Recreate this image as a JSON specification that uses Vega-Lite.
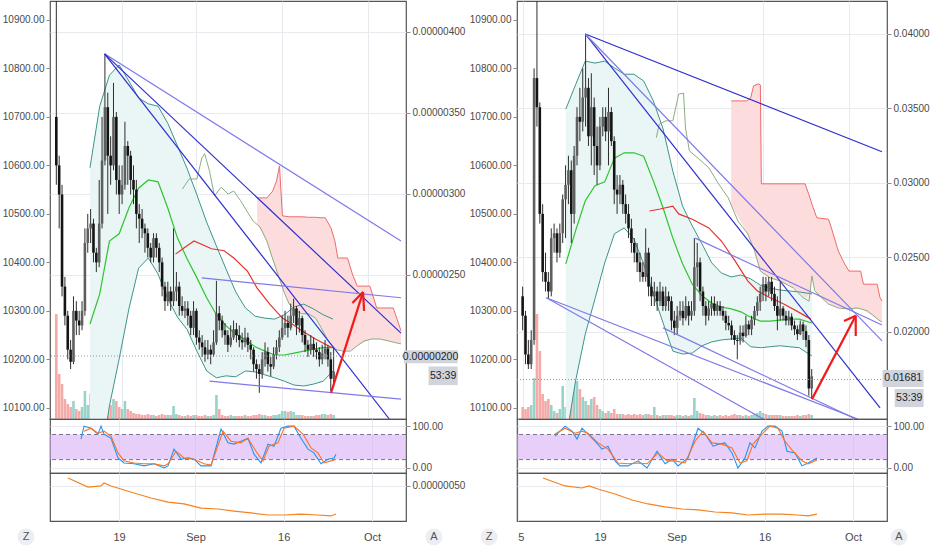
{
  "$schema": "https://vega.github.io/schema/vega-lite/v6.json",
  "padding": 0,
  "spacing": 0,
  "datasets": {
    "candL": [
      {"d":7.5,"o":10700,"h":10939,"l":10560,"c":10600,"v":105},
      {"d":8.0,"o":10600,"h":10620,"l":10470,"c":10540,"v":45},
      {"d":8.5,"o":10540,"h":10560,"l":10330,"c":10350,"v":35},
      {"d":9.0,"o":10350,"h":10370,"l":10270,"c":10290,"v":20},
      {"d":9.5,"o":10290,"h":10300,"l":10200,"c":10220,"v":15},
      {"d":10.0,"o":10220,"h":10240,"l":10180,"c":10195,"v":12},
      {"d":10.5,"o":10195,"h":10330,"l":10190,"c":10300,"v":18},
      {"d":11.0,"o":10300,"h":10320,"l":10250,"c":10280,"v":10},
      {"d":11.5,"o":10280,"h":10300,"l":10250,"c":10270,"v":8},
      {"d":12.0,"o":10270,"h":10320,"l":10260,"c":10300,"v":12},
      {"d":12.5,"o":10300,"h":10470,"l":10290,"c":10440,"v":28},
      {"d":13.0,"o":10440,"h":10500,"l":10420,"c":10470,"v":14},
      {"d":13.5,"o":10470,"h":10510,"l":10440,"c":10480,"v":25},
      {"d":14.0,"o":10480,"h":10490,"l":10400,"c":10420,"v":8},
      {"d":14.5,"o":10420,"h":10430,"l":10380,"c":10400,"v":10},
      {"d":15.0,"o":10400,"h":10570,"l":10390,"c":10480,"v":43},
      {"d":15.5,"o":10480,"h":10700,"l":10470,"c":10610,"v":38},
      {"d":16.0,"o":10610,"h":10830,"l":10600,"c":10720,"v":32},
      {"d":16.5,"o":10720,"h":10750,"l":10500,"c":10620,"v":25},
      {"d":17.0,"o":10620,"h":10660,"l":10560,"c":10600,"v":14},
      {"d":17.5,"o":10600,"h":10770,"l":10590,"c":10700,"v":20},
      {"d":18.0,"o":10700,"h":10710,"l":10540,"c":10570,"v":18},
      {"d":18.5,"o":10570,"h":10600,"l":10500,"c":10540,"v":12},
      {"d":19.0,"o":10540,"h":10600,"l":10520,"c":10560,"v":10},
      {"d":19.5,"o":10560,"h":10690,"l":10550,"c":10640,"v":18},
      {"d":20.0,"o":10640,"h":10650,"l":10560,"c":10620,"v":10},
      {"d":20.5,"o":10620,"h":10630,"l":10540,"c":10570,"v":8},
      {"d":21.0,"o":10570,"h":10600,"l":10520,"c":10550,"v":6},
      {"d":21.5,"o":10550,"h":10570,"l":10470,"c":10500,"v":5},
      {"d":22.0,"o":10500,"h":10520,"l":10440,"c":10490,"v":5},
      {"d":22.5,"o":10490,"h":10510,"l":10450,"c":10470,"v":4},
      {"d":23.0,"o":10470,"h":10480,"l":10420,"c":10460,"v":4},
      {"d":23.5,"o":10460,"h":10470,"l":10410,"c":10430,"v":5},
      {"d":24.0,"o":10430,"h":10440,"l":10400,"c":10410,"v":4},
      {"d":24.5,"o":10410,"h":10460,"l":10400,"c":10450,"v":4},
      {"d":25.0,"o":10450,"h":10460,"l":10410,"c":10430,"v":3},
      {"d":25.5,"o":10430,"h":10440,"l":10380,"c":10400,"v":4},
      {"d":26.0,"o":10400,"h":10410,"l":10330,"c":10350,"v":5},
      {"d":26.5,"o":10350,"h":10360,"l":10300,"c":10320,"v":4},
      {"d":27.0,"o":10320,"h":10360,"l":10310,"c":10340,"v":4},
      {"d":27.5,"o":10340,"h":10350,"l":10300,"c":10320,"v":4},
      {"d":28.0,"o":10320,"h":10470,"l":10310,"c":10340,"v":13},
      {"d":28.5,"o":10340,"h":10380,"l":10320,"c":10350,"v":5},
      {"d":29.0,"o":10350,"h":10360,"l":10290,"c":10310,"v":4},
      {"d":29.5,"o":10310,"h":10330,"l":10290,"c":10300,"v":3},
      {"d":30.0,"o":10300,"h":10320,"l":10285,"c":10305,"v":3},
      {"d":30.5,"o":10305,"h":10320,"l":10270,"c":10290,"v":4},
      {"d":31.0,"o":10290,"h":10300,"l":10250,"c":10265,"v":3},
      {"d":31.5,"o":10265,"h":10320,"l":10250,"c":10300,"v":4},
      {"d":32.0,"o":10300,"h":10305,"l":10230,"c":10245,"v":4},
      {"d":32.5,"o":10245,"h":10260,"l":10220,"c":10235,"v":3},
      {"d":33.0,"o":10235,"h":10250,"l":10205,"c":10225,"v":3},
      {"d":33.5,"o":10225,"h":10240,"l":10195,"c":10210,"v":4},
      {"d":34.0,"o":10210,"h":10240,"l":10200,"c":10220,"v":3},
      {"d":34.5,"o":10220,"h":10230,"l":10190,"c":10210,"v":3},
      {"d":35.0,"o":10210,"h":10260,"l":10205,"c":10235,"v":4},
      {"d":35.5,"o":10235,"h":10362,"l":10230,"c":10295,"v":24},
      {"d":36.0,"o":10295,"h":10310,"l":10260,"c":10280,"v":10},
      {"d":36.5,"o":10280,"h":10290,"l":10245,"c":10260,"v":4},
      {"d":37.0,"o":10260,"h":10275,"l":10230,"c":10250,"v":3},
      {"d":37.5,"o":10250,"h":10260,"l":10215,"c":10230,"v":3},
      {"d":38.0,"o":10230,"h":10270,"l":10225,"c":10245,"v":4},
      {"d":38.5,"o":10245,"h":10280,"l":10240,"c":10262,"v":3},
      {"d":39.0,"o":10262,"h":10275,"l":10235,"c":10250,"v":3},
      {"d":39.5,"o":10250,"h":10270,"l":10225,"c":10240,"v":3},
      {"d":40.0,"o":10240,"h":10255,"l":10220,"c":10235,"v":3},
      {"d":40.5,"o":10235,"h":10265,"l":10225,"c":10245,"v":4},
      {"d":41.0,"o":10245,"h":10255,"l":10215,"c":10230,"v":3},
      {"d":41.5,"o":10230,"h":10240,"l":10200,"c":10220,"v":3},
      {"d":42.0,"o":10220,"h":10225,"l":10175,"c":10190,"v":4},
      {"d":42.5,"o":10190,"h":10200,"l":10160,"c":10180,"v":4},
      {"d":43.0,"o":10180,"h":10190,"l":10131,"c":10170,"v":5},
      {"d":43.5,"o":10170,"h":10215,"l":10160,"c":10200,"v":4},
      {"d":44.0,"o":10200,"h":10235,"l":10185,"c":10215,"v":4},
      {"d":44.5,"o":10215,"h":10225,"l":10175,"c":10190,"v":3},
      {"d":45.0,"o":10190,"h":10205,"l":10165,"c":10185,"v":3},
      {"d":45.5,"o":10185,"h":10225,"l":10180,"c":10210,"v":4},
      {"d":46.0,"o":10210,"h":10240,"l":10200,"c":10225,"v":4},
      {"d":46.5,"o":10225,"h":10260,"l":10215,"c":10245,"v":5},
      {"d":47.0,"o":10245,"h":10290,"l":10240,"c":10265,"v":8},
      {"d":47.5,"o":10265,"h":10300,"l":10250,"c":10275,"v":8},
      {"d":48.0,"o":10275,"h":10290,"l":10245,"c":10265,"v":7},
      {"d":48.5,"o":10265,"h":10315,"l":10260,"c":10290,"v":8},
      {"d":49.0,"o":10290,"h":10325,"l":10275,"c":10305,"v":7},
      {"d":49.5,"o":10305,"h":10310,"l":10250,"c":10270,"v":4},
      {"d":50.0,"o":10270,"h":10300,"l":10255,"c":10285,"v":4},
      {"d":50.5,"o":10285,"h":10290,"l":10235,"c":10250,"v":4},
      {"d":51.0,"o":10250,"h":10260,"l":10215,"c":10230,"v":3},
      {"d":51.5,"o":10230,"h":10240,"l":10205,"c":10220,"v":3},
      {"d":52.0,"o":10220,"h":10250,"l":10210,"c":10232,"v":3},
      {"d":52.5,"o":10232,"h":10245,"l":10205,"c":10220,"v":3},
      {"d":53.0,"o":10220,"h":10235,"l":10200,"c":10215,"v":4},
      {"d":53.5,"o":10215,"h":10225,"l":10185,"c":10200,"v":4},
      {"d":54.0,"o":10200,"h":10230,"l":10190,"c":10212,"v":5},
      {"d":54.5,"o":10212,"h":10240,"l":10200,"c":10222,"v":5},
      {"d":55.0,"o":10222,"h":10230,"l":10185,"c":10200,"v":4},
      {"d":55.5,"o":10200,"h":10215,"l":10135,"c":10160,"v":5},
      {"d":56.0,"o":10160,"h":10225,"l":10150,"c":10175,"v":4}
    ],
    "candR": [
      {"d":5.0,"o":10330,"h":10350,"l":10260,"c":10290,"v":12},
      {"d":5.5,"o":10290,"h":10300,"l":10190,"c":10210,"v":10},
      {"d":6.0,"o":10210,"h":10240,"l":10180,"c":10190,"v":12},
      {"d":6.5,"o":10190,"h":10260,"l":10180,"c":10240,"v":14},
      {"d":7.0,"o":10240,"h":10800,"l":10230,"c":10780,"v":41},
      {"d":7.5,"o":10780,"h":10960,"l":10680,"c":10720,"v":105},
      {"d":8.0,"o":10720,"h":10730,"l":10480,"c":10500,"v":68},
      {"d":8.5,"o":10500,"h":10520,"l":10360,"c":10380,"v":25},
      {"d":9.0,"o":10380,"h":10420,"l":10340,"c":10360,"v":18},
      {"d":9.5,"o":10360,"h":10380,"l":10325,"c":10340,"v":20},
      {"d":10.0,"o":10340,"h":10470,"l":10330,"c":10450,"v":14},
      {"d":10.5,"o":10450,"h":10480,"l":10420,"c":10460,"v":8},
      {"d":11.0,"o":10460,"h":10470,"l":10400,"c":10420,"v":6},
      {"d":11.5,"o":10420,"h":10480,"l":10410,"c":10460,"v":10},
      {"d":12.0,"o":10460,"h":10540,"l":10440,"c":10530,"v":33},
      {"d":12.5,"o":10530,"h":10600,"l":10450,"c":10560,"v":12},
      {"d":13.0,"o":10560,"h":10620,"l":10520,"c":10590,"v":25},
      {"d":13.5,"o":10590,"h":10610,"l":10440,"c":10500,"v":22},
      {"d":14.0,"o":10500,"h":10640,"l":10480,"c":10620,"v":48},
      {"d":14.5,"o":10620,"h":10720,"l":10600,"c":10700,"v":38},
      {"d":15.0,"o":10700,"h":10760,"l":10650,"c":10690,"v":30},
      {"d":15.5,"o":10690,"h":10800,"l":10670,"c":10740,"v":22},
      {"d":16.0,"o":10740,"h":10870,"l":10680,"c":10760,"v":18},
      {"d":16.5,"o":10760,"h":10780,"l":10640,"c":10660,"v":14},
      {"d":17.0,"o":10660,"h":10790,"l":10600,"c":10720,"v":20},
      {"d":17.5,"o":10720,"h":10740,"l":10580,"c":10640,"v":22},
      {"d":18.0,"o":10640,"h":10680,"l":10560,"c":10600,"v":14},
      {"d":18.5,"o":10600,"h":10700,"l":10590,"c":10680,"v":10},
      {"d":19.0,"o":10680,"h":10720,"l":10660,"c":10700,"v":8},
      {"d":19.5,"o":10700,"h":10720,"l":10650,"c":10670,"v":6},
      {"d":20.0,"o":10670,"h":10760,"l":10600,"c":10710,"v":8},
      {"d":20.5,"o":10710,"h":10720,"l":10640,"c":10650,"v":6},
      {"d":21.0,"o":10650,"h":10660,"l":10520,"c":10550,"v":10},
      {"d":21.5,"o":10550,"h":10580,"l":10500,"c":10540,"v":5},
      {"d":22.0,"o":10540,"h":10580,"l":10520,"c":10560,"v":5},
      {"d":22.5,"o":10560,"h":10570,"l":10500,"c":10520,"v":5},
      {"d":23.0,"o":10520,"h":10540,"l":10480,"c":10500,"v":4},
      {"d":23.5,"o":10500,"h":10520,"l":10450,"c":10470,"v":5},
      {"d":24.0,"o":10470,"h":10490,"l":10420,"c":10440,"v":4},
      {"d":24.5,"o":10440,"h":10450,"l":10400,"c":10420,"v":5},
      {"d":25.0,"o":10420,"h":10440,"l":10380,"c":10400,"v":4},
      {"d":25.5,"o":10400,"h":10420,"l":10360,"c":10380,"v":5},
      {"d":26.0,"o":10380,"h":10400,"l":10360,"c":10370,"v":4},
      {"d":26.5,"o":10370,"h":10470,"l":10360,"c":10420,"v":5},
      {"d":27.0,"o":10420,"h":10430,"l":10330,"c":10350,"v":5},
      {"d":27.5,"o":10350,"h":10370,"l":10310,"c":10330,"v":4},
      {"d":28.0,"o":10330,"h":10360,"l":10310,"c":10340,"v":12},
      {"d":28.5,"o":10340,"h":10350,"l":10300,"c":10320,"v":4},
      {"d":29.0,"o":10320,"h":10360,"l":10310,"c":10340,"v":3},
      {"d":29.5,"o":10340,"h":10350,"l":10300,"c":10310,"v":4},
      {"d":30.0,"o":10310,"h":10350,"l":10300,"c":10330,"v":4},
      {"d":30.5,"o":10330,"h":10340,"l":10300,"c":10320,"v":4},
      {"d":31.0,"o":10320,"h":10330,"l":10260,"c":10280,"v":4},
      {"d":31.5,"o":10280,"h":10300,"l":10250,"c":10265,"v":3},
      {"d":32.0,"o":10265,"h":10310,"l":10250,"c":10290,"v":4},
      {"d":32.5,"o":10290,"h":10320,"l":10280,"c":10300,"v":4},
      {"d":33.0,"o":10300,"h":10320,"l":10270,"c":10285,"v":3},
      {"d":33.5,"o":10285,"h":10330,"l":10280,"c":10310,"v":4},
      {"d":34.0,"o":10310,"h":10320,"l":10270,"c":10290,"v":3},
      {"d":34.5,"o":10290,"h":10320,"l":10280,"c":10300,"v":4},
      {"d":35.0,"o":10300,"h":10450,"l":10290,"c":10390,"v":21},
      {"d":35.5,"o":10390,"h":10440,"l":10350,"c":10400,"v":8},
      {"d":36.0,"o":10400,"h":10410,"l":10320,"c":10340,"v":6},
      {"d":36.5,"o":10340,"h":10350,"l":10290,"c":10310,"v":5},
      {"d":37.0,"o":10310,"h":10320,"l":10270,"c":10290,"v":4},
      {"d":37.5,"o":10290,"h":10320,"l":10280,"c":10305,"v":4},
      {"d":38.0,"o":10305,"h":10330,"l":10290,"c":10315,"v":3},
      {"d":38.5,"o":10315,"h":10330,"l":10290,"c":10300,"v":4},
      {"d":39.0,"o":10300,"h":10320,"l":10290,"c":10310,"v":3},
      {"d":39.5,"o":10310,"h":10320,"l":10290,"c":10300,"v":4},
      {"d":40.0,"o":10300,"h":10310,"l":10280,"c":10290,"v":3},
      {"d":40.5,"o":10290,"h":10300,"l":10260,"c":10275,"v":4},
      {"d":41.0,"o":10275,"h":10290,"l":10260,"c":10270,"v":3},
      {"d":41.5,"o":10270,"h":10280,"l":10240,"c":10250,"v":4},
      {"d":42.0,"o":10250,"h":10260,"l":10230,"c":10240,"v":5},
      {"d":42.5,"o":10240,"h":10250,"l":10200,"c":10238,"v":4},
      {"d":43.0,"o":10238,"h":10270,"l":10230,"c":10255,"v":4},
      {"d":43.5,"o":10255,"h":10270,"l":10235,"c":10248,"v":3},
      {"d":44.0,"o":10248,"h":10290,"l":10245,"c":10272,"v":4},
      {"d":44.5,"o":10272,"h":10280,"l":10250,"c":10262,"v":3},
      {"d":45.0,"o":10262,"h":10290,"l":10250,"c":10282,"v":4},
      {"d":45.5,"o":10282,"h":10310,"l":10270,"c":10300,"v":5},
      {"d":46.0,"o":10300,"h":10330,"l":10290,"c":10318,"v":6},
      {"d":46.5,"o":10318,"h":10350,"l":10300,"c":10335,"v":8},
      {"d":47.0,"o":10335,"h":10370,"l":10320,"c":10355,"v":6},
      {"d":47.5,"o":10355,"h":10370,"l":10320,"c":10340,"v":5},
      {"d":48.0,"o":10340,"h":10370,"l":10330,"c":10360,"v":4},
      {"d":48.5,"o":10360,"h":10370,"l":10320,"c":10335,"v":4},
      {"d":49.0,"o":10335,"h":10350,"l":10300,"c":10310,"v":4},
      {"d":49.5,"o":10310,"h":10330,"l":10260,"c":10290,"v":4},
      {"d":50.0,"o":10290,"h":10360,"l":10280,"c":10305,"v":4},
      {"d":50.5,"o":10305,"h":10310,"l":10280,"c":10290,"v":3},
      {"d":51.0,"o":10290,"h":10300,"l":10270,"c":10280,"v":3},
      {"d":51.5,"o":10280,"h":10300,"l":10270,"c":10288,"v":3},
      {"d":52.0,"o":10288,"h":10295,"l":10260,"c":10270,"v":3},
      {"d":52.5,"o":10270,"h":10280,"l":10250,"c":10262,"v":3},
      {"d":53.0,"o":10262,"h":10270,"l":10240,"c":10252,"v":4},
      {"d":53.5,"o":10252,"h":10280,"l":10250,"c":10272,"v":3},
      {"d":54.0,"o":10272,"h":10278,"l":10240,"c":10258,"v":4},
      {"d":54.5,"o":10258,"h":10270,"l":10225,"c":10240,"v":4},
      {"d":55.0,"o":10240,"h":10250,"l":10125,"c":10140,"v":5},
      {"d":55.5,"o":10140,"h":10180,"l":10118,"c":10165,"v":4}
    ],
    "bbL": [
      {"d":13.39,"up":10595,"lo":9784,"mid":10273},
      {"d":15.09,"up":10722,"lo":9970,"mid":10335},
      {"d":16.79,"up":10786,"lo":10104,"mid":10444},
      {"d":18.49,"up":10807,"lo":10201,"mid":10459},
      {"d":20.19,"up":10774,"lo":10304,"mid":10512},
      {"d":21.89,"up":10739,"lo":10388,"mid":10553},
      {"d":23.59,"up":10727,"lo":10409,"mid":10570},
      {"d":25.29,"up":10722,"lo":10376,"mid":10566},
      {"d":26.99,"up":10687,"lo":10325,"mid":10512},
      {"d":28.69,"up":10640,"lo":10287,"mid":10450},
      {"d":30.39,"up":10593,"lo":10261,"mid":10407},
      {"d":32.09,"up":10539,"lo":10217,"mid":10368},
      {"d":33.79,"up":10483,"lo":10176,"mid":10327},
      {"d":35.49,"up":10434,"lo":10162,"mid":10292},
      {"d":37.19,"up":10386,"lo":10166,"mid":10269},
      {"d":38.88,"up":10339,"lo":10164,"mid":10252},
      {"d":40.58,"up":10306,"lo":10176,"mid":10240},
      {"d":42.28,"up":10289,"lo":10174,"mid":10226},
      {"d":43.98,"up":10285,"lo":10168,"mid":10217},
      {"d":45.68,"up":10283,"lo":10162,"mid":10209},
      {"d":47.38,"up":10292,"lo":10155,"mid":10209},
      {"d":49.08,"up":10308,"lo":10147,"mid":10213},
      {"d":50.78,"up":10314,"lo":10145,"mid":10217},
      {"d":52.48,"up":10304,"lo":10149,"mid":10221},
      {"d":54.18,"up":10292,"lo":10155,"mid":10224},
      {"d":55.88,"up":10283,"lo":10176,"mid":10224}
    ],
    "bbR": [
      {"d":12.54,"up":10716,"lo":10032,"mid":10397},
      {"d":14.24,"up":10766,"lo":10155,"mid":10465},
      {"d":15.94,"up":10815,"lo":10252,"mid":10527},
      {"d":17.64,"up":10811,"lo":10325,"mid":10558},
      {"d":19.34,"up":10815,"lo":10399,"mid":10566},
      {"d":21.04,"up":10801,"lo":10459,"mid":10615},
      {"d":22.74,"up":10788,"lo":10471,"mid":10626},
      {"d":24.44,"up":10788,"lo":10448,"mid":10626},
      {"d":26.14,"up":10774,"lo":10397,"mid":10619},
      {"d":27.84,"up":10733,"lo":10335,"mid":10568},
      {"d":29.54,"up":10675,"lo":10275,"mid":10512},
      {"d":31.24,"up":10588,"lo":10217,"mid":10450},
      {"d":32.94,"up":10516,"lo":10211,"mid":10397},
      {"d":34.64,"up":10475,"lo":10213,"mid":10355},
      {"d":36.34,"up":10438,"lo":10228,"mid":10331},
      {"d":38.03,"up":10399,"lo":10236,"mid":10316},
      {"d":39.73,"up":10378,"lo":10240,"mid":10308},
      {"d":41.43,"up":10370,"lo":10242,"mid":10304},
      {"d":43.13,"up":10374,"lo":10244,"mid":10298},
      {"d":44.83,"up":10366,"lo":10226,"mid":10287},
      {"d":46.53,"up":10353,"lo":10224,"mid":10279},
      {"d":48.23,"up":10347,"lo":10226,"mid":10279},
      {"d":49.93,"up":10343,"lo":10228,"mid":10281},
      {"d":51.63,"up":10341,"lo":10226,"mid":10283},
      {"d":53.33,"up":10339,"lo":10224,"mid":10283},
      {"d":55.54,"up":10335,"lo":10207,"mid":10275}
    ],
    "rdL": [
      {"d":28.35,"p":10417},{"d":29.88,"p":10430},{"d":31.58,"p":10444},{"d":34.64,"p":10428},
      {"d":36.85,"p":10424},{"d":38.54,"p":10409},{"d":40.92,"p":10382},{"d":42.62,"p":10347},
      {"d":44.83,"p":10314},{"d":47.04,"p":10285},{"d":48.74,"p":10273},{"d":50.44,"p":10259},
      {"d":52.82,"p":10242},{"d":55.03,"p":10228},{"d":55.88,"p":10224}
    ],
    "rdR": [
      {"d":27.16,"p":10506},{"d":29.03,"p":10510},{"d":31.24,"p":10516},{"d":32.26,"p":10500},
      {"d":34.64,"p":10489},{"d":37.52,"p":10471},{"d":39.73,"p":10444},{"d":42.11,"p":10403},
      {"d":44.32,"p":10362},{"d":46.02,"p":10341},{"d":48.23,"p":10327},{"d":50.61,"p":10314},
      {"d":52.82,"p":10300},{"d":55.37,"p":10283}
    ],
    "saL": [
      {"d":29.54,"a":10551},{"d":30.73,"a":10572},{"d":32.09,"a":10572},{"d":32.94,"a":10615},
      {"d":33.45,"a":10624},{"d":34.3,"a":10588},{"d":35.15,"a":10537},{"d":36.34,"a":10555},
      {"d":37.52,"a":10541},{"d":38.54,"a":10547},{"d":39.73,"a":10527},{"d":40.92,"a":10504},
      {"d":41.94,"a":10485},{"d":43.13,"a":10473},{"d":44.32,"a":10444},{"d":45.34,"a":10407},
      {"d":46.53,"a":10366},{"d":47.38,"a":10337},{"d":48.23,"a":10314},{"d":49.42,"a":10300},
      {"d":50.44,"a":10294},{"d":51.63,"a":10294},{"d":52.82,"a":10285},{"d":53.84,"a":10265},
      {"d":55.03,"a":10238},{"d":56.22,"a":10221},{"d":57.58,"a":10217},{"d":58.94,"a":10217},
      {"d":60.13,"a":10228},{"d":61.32,"a":10238},{"d":62.68,"a":10242},{"d":64.04,"a":10242},
      {"d":65.57,"a":10238},{"d":66.93,"a":10234},{"d":67.78,"a":10232}
    ],
    "saR": [
      {"d":28.35,"a":10657},{"d":28.86,"a":10685},{"d":30.05,"a":10692},{"d":31.24,"a":10692},
      {"d":32.26,"a":10747},{"d":33.11,"a":10749},{"d":33.45,"a":10677},{"d":34.13,"a":10630},
      {"d":35.83,"a":10613},{"d":37.52,"a":10595},{"d":39.22,"a":10562},{"d":40.92,"a":10533},
      {"d":42.62,"a":10485},{"d":44.32,"a":10459},{"d":45.51,"a":10424},{"d":46.53,"a":10382},
      {"d":48.23,"a":10368},{"d":49.93,"a":10362},{"d":52.31,"a":10347},{"d":54.01,"a":10327},
      {"d":55.03,"a":10320},{"d":55.54,"a":10372},{"d":56.05,"a":10341},{"d":58.43,"a":10314},
      {"d":60.13,"a":10306},{"d":61.83,"a":10304},{"d":63.53,"a":10306},{"d":65.23,"a":10300},
      {"d":67.44,"a":10279},{"d":67.78,"a":10277}
    ],
    "cloudL": [
      {"d":42.62,"a":10479,"b":10533},{"d":44.32,"a":10444,"b":10533},{"d":45.34,"a":10407,"b":10547},
      {"d":46.02,"a":10384,"b":10568},{"d":46.53,"a":10366,"b":10599},{"d":47.04,"a":10349,"b":10496},
      {"d":48.23,"a":10314,"b":10494},{"d":49.42,"a":10300,"b":10494},{"d":50.44,"a":10294,"b":10494},
      {"d":51.63,"a":10294,"b":10493},{"d":52.82,"a":10285,"b":10493},{"d":53.84,"a":10265,"b":10492},
      {"d":54.52,"a":10250,"b":10492},{"d":55.54,"a":10231,"b":10471},{"d":56.22,"a":10221,"b":10444},
      {"d":56.73,"a":10220,"b":10409},{"d":58.43,"a":10217,"b":10409},{"d":59.28,"a":10220,"b":10376},
      {"d":60.13,"a":10228,"b":10351},{"d":62.34,"a":10241,"b":10351},{"d":63.53,"a":10242,"b":10306},
      {"d":66.42,"a":10236,"b":10306},{"d":67.78,"a":10232,"b":10259}
    ],
    "cloudR": [
      {"d":41.43,"a":10519,"b":10733},{"d":44.15,"a":10462,"b":10733},{"d":44.83,"a":10444,"b":10739},
      {"d":45.34,"a":10429,"b":10764},{"d":46.19,"a":10396,"b":10768},{"d":46.53,"a":10382,"b":10766},
      {"d":46.7,"a":10381,"b":10562},{"d":48.23,"a":10368,"b":10562},{"d":49.93,"a":10362,"b":10562},
      {"d":52.31,"a":10347,"b":10562},{"d":54.35,"a":10325,"b":10562},{"d":55.2,"a":10337,"b":10533},
      {"d":55.54,"a":10372,"b":10520},{"d":56.39,"a":10333,"b":10492},{"d":58.43,"a":10314,"b":10489},
      {"d":58.94,"a":10312,"b":10471},{"d":60.13,"a":10306,"b":10424},{"d":61.15,"a":10305,"b":10399},
      {"d":62.0,"a":10304,"b":10382},{"d":64.04,"a":10304,"b":10382},{"d":64.55,"a":10302,"b":10355},
      {"d":66.93,"a":10284,"b":10355},{"d":67.44,"a":10279,"b":10327},{"d":67.78,"a":10277,"b":10320}
    ],
    "trL": [
      {"d1":15.94,"p1":10830,"d2":67.78,"p2":10444,"k":"light"},
      {"d1":15.94,"p1":10830,"d2":67.78,"p2":10254,"k":"dark"},
      {"d1":15.94,"p1":10830,"d2":65.74,"p2":10077,"k":"dark"},
      {"d1":32.94,"p1":10368,"d2":67.78,"p2":10327,"k":"light"},
      {"d1":34.3,"p1":10155,"d2":67.78,"p2":10118,"k":"light"},
      {"d1":55.54,"p1":10131,"d2":61.15,"p2":10339,"k":"arrow"},
      {"d1":61.15,"p1":10339,"d2":59.28,"p2":10316,"k":"arrow"},
      {"d1":61.15,"p1":10339,"d2":61.32,"p2":10300,"k":"arrow"}
    ],
    "trR": [
      {"d1":15.94,"p1":10871,"d2":67.78,"p2":10628,"k":"dark"},
      {"d1":15.94,"p1":10871,"d2":67.44,"p2":10100,"k":"dark"},
      {"d1":15.94,"p1":10871,"d2":67.78,"p2":10238,"k":"light"},
      {"d1":35.15,"p1":10450,"d2":67.78,"p2":10271,"k":"light"},
      {"d1":9.14,"p1":10327,"d2":63.53,"p2":10077,"k":"light"},
      {"d1":9.14,"p1":10327,"d2":47.04,"p2":10077,"k":"light"},
      {"d1":29.54,"p1":10265,"d2":63.19,"p2":10077,"k":"light"},
      {"d1":55.54,"p1":10118,"d2":63.19,"p2":10290,"k":"arrow"},
      {"d1":63.19,"p1":10290,"d2":61.15,"p2":10279,"k":"arrow"},
      {"d1":63.19,"p1":10290,"d2":63.19,"p2":10248,"k":"arrow"}
    ],
    "stL": [
      {"d":12.54,"v":69,"s":"K"},{"d":13.05,"v":100,"s":"K"},{"d":14.24,"v":95,"s":"K"},{"d":15.43,"v":81,"s":"K"},
      {"d":15.94,"v":100,"s":"K"},{"d":16.45,"v":81,"s":"K"},{"d":17.64,"v":71,"s":"K"},{"d":18.83,"v":24,"s":"K"},
      {"d":19.85,"v":12,"s":"K"},{"d":21.55,"v":10,"s":"K"},{"d":23.25,"v":5,"s":"K"},{"d":24.95,"v":10,"s":"K"},
      {"d":26.65,"v":0,"s":"K"},{"d":27.33,"v":5,"s":"K"},{"d":28.35,"v":45,"s":"K"},{"d":29.54,"v":21,"s":"K"},
      {"d":30.73,"v":24,"s":"K"},{"d":31.75,"v":21,"s":"K"},{"d":32.94,"v":5,"s":"K"},{"d":34.64,"v":5,"s":"K"},
      {"d":36.34,"v":93,"s":"K"},{"d":37.52,"v":60,"s":"K"},{"d":38.54,"v":57,"s":"K"},{"d":39.73,"v":64,"s":"K"},
      {"d":40.92,"v":71,"s":"K"},{"d":41.94,"v":33,"s":"K"},{"d":43.13,"v":12,"s":"K"},{"d":44.32,"v":57,"s":"K"},
      {"d":45.34,"v":52,"s":"K"},{"d":46.53,"v":95,"s":"K"},{"d":47.72,"v":100,"s":"K"},{"d":48.74,"v":100,"s":"K"},
      {"d":49.93,"v":71,"s":"K"},{"d":51.12,"v":45,"s":"K"},{"d":52.14,"v":36,"s":"K"},{"d":53.33,"v":10,"s":"K"},
      {"d":54.52,"v":21,"s":"K"},{"d":55.54,"v":24,"s":"K"},{"d":55.88,"v":33,"s":"K"},
      {"d":13.05,"v":88,"s":"D"},{"d":14.24,"v":95,"s":"D"},{"d":15.43,"v":83,"s":"D"},{"d":16.45,"v":88,"s":"D"},
      {"d":17.64,"v":76,"s":"D"},{"d":18.83,"v":36,"s":"D"},{"d":19.85,"v":17,"s":"D"},{"d":21.55,"v":12,"s":"D"},
      {"d":23.25,"v":10,"s":"D"},{"d":24.95,"v":10,"s":"D"},{"d":26.65,"v":5,"s":"D"},{"d":27.33,"v":10,"s":"D"},
      {"d":28.69,"v":40,"s":"D"},{"d":30.05,"v":24,"s":"D"},{"d":31.75,"v":21,"s":"D"},{"d":33.45,"v":10,"s":"D"},
      {"d":34.64,"v":7,"s":"D"},{"d":36.68,"v":88,"s":"D"},{"d":38.03,"v":64,"s":"D"},{"d":39.73,"v":60,"s":"D"},
      {"d":40.92,"v":71,"s":"D"},{"d":42.28,"v":40,"s":"D"},{"d":43.47,"v":17,"s":"D"},{"d":44.49,"v":52,"s":"D"},
      {"d":46.02,"v":60,"s":"D"},{"d":47.04,"v":95,"s":"D"},{"d":48.74,"v":100,"s":"D"},{"d":50.27,"v":81,"s":"D"},
      {"d":51.63,"v":48,"s":"D"},{"d":52.82,"v":36,"s":"D"},{"d":53.84,"v":12,"s":"D"},{"d":55.03,"v":17,"s":"D"},
      {"d":55.88,"v":21,"s":"D"}
    ],
    "stR": [
      {"d":11.35,"v":76,"s":"K"},{"d":13.05,"v":100,"s":"K"},{"d":14.24,"v":88,"s":"K"},{"d":15.09,"v":69,"s":"K"},
      {"d":15.94,"v":95,"s":"K"},{"d":16.96,"v":81,"s":"K"},{"d":18.15,"v":64,"s":"K"},{"d":19.34,"v":45,"s":"K"},
      {"d":20.36,"v":52,"s":"K"},{"d":21.55,"v":17,"s":"K"},{"d":22.4,"v":5,"s":"K"},{"d":23.76,"v":5,"s":"K"},
      {"d":25.46,"v":17,"s":"K"},{"d":26.99,"v":0,"s":"K"},{"d":28.69,"v":40,"s":"K"},{"d":30.05,"v":10,"s":"K"},
      {"d":31.24,"v":21,"s":"K"},{"d":32.26,"v":5,"s":"K"},{"d":33.96,"v":24,"s":"K"},{"d":35.66,"v":95,"s":"K"},
      {"d":36.85,"v":81,"s":"K"},{"d":38.2,"v":52,"s":"K"},{"d":39.22,"v":57,"s":"K"},{"d":40.24,"v":60,"s":"K"},
      {"d":41.43,"v":36,"s":"K"},{"d":42.45,"v":0,"s":"K"},{"d":43.64,"v":24,"s":"K"},{"d":44.49,"v":60,"s":"K"},
      {"d":45.34,"v":48,"s":"K"},{"d":46.53,"v":88,"s":"K"},{"d":47.55,"v":100,"s":"K"},{"d":48.74,"v":100,"s":"K"},
      {"d":49.93,"v":88,"s":"K"},{"d":50.78,"v":40,"s":"K"},{"d":52.14,"v":36,"s":"K"},{"d":53.33,"v":5,"s":"K"},
      {"d":54.35,"v":12,"s":"K"},{"d":55.03,"v":17,"s":"K"},{"d":55.88,"v":24,"s":"K"},
      {"d":11.35,"v":81,"s":"D"},{"d":13.05,"v":95,"s":"D"},{"d":14.75,"v":83,"s":"D"},{"d":15.94,"v":88,"s":"D"},
      {"d":16.96,"v":83,"s":"D"},{"d":18.66,"v":60,"s":"D"},{"d":20.36,"v":45,"s":"D"},{"d":22.06,"v":12,"s":"D"},
      {"d":23.76,"v":10,"s":"D"},{"d":25.46,"v":12,"s":"D"},{"d":26.99,"v":10,"s":"D"},{"d":28.86,"v":36,"s":"D"},
      {"d":30.39,"v":17,"s":"D"},{"d":31.75,"v":17,"s":"D"},{"d":33.45,"v":12,"s":"D"},{"d":35.15,"v":64,"s":"D"},
      {"d":36.51,"v":88,"s":"D"},{"d":38.03,"v":60,"s":"D"},{"d":39.73,"v":57,"s":"D"},{"d":41.43,"v":48,"s":"D"},
      {"d":42.79,"v":12,"s":"D"},{"d":43.98,"v":17,"s":"D"},{"d":45.0,"v":57,"s":"D"},{"d":46.53,"v":81,"s":"D"},
      {"d":47.89,"v":100,"s":"D"},{"d":49.25,"v":95,"s":"D"},{"d":50.44,"v":64,"s":"D"},{"d":51.8,"v":40,"s":"D"},
      {"d":53.33,"v":17,"s":"D"},{"d":54.35,"v":10,"s":"D"},{"d":55.88,"v":19,"s":"D"}
    ],
    "oscL": [
      {"d":10.33,"v":5.66e-7},{"d":13.73,"v":4.91e-7},{"d":15.94,"v":5.0e-7},{"d":16.45,"v":5.25e-7},
      {"d":17.64,"v":5.0e-7},{"d":19.34,"v":4.75e-7},{"d":21.55,"v":4.41e-7},{"d":24.44,"v":4.0e-7},
      {"d":27.33,"v":3.66e-7},{"d":30.05,"v":3.5e-7},{"d":32.94,"v":3.16e-7},{"d":35.83,"v":3.08e-7},
      {"d":38.54,"v":2.91e-7},{"d":41.43,"v":2.75e-7},{"d":44.32,"v":2.58e-7},{"d":47.04,"v":2.58e-7},
      {"d":49.93,"v":2.66e-7},{"d":52.82,"v":2.58e-7},{"d":55.03,"v":2.5e-7},{"d":55.88,"v":2.66e-7}
    ],
    "oscR": [
      {"d":9.31,"v":5.66e-7},{"d":13.05,"v":5.0e-7},{"d":15.94,"v":4.83e-7},{"d":17.13,"v":5.0e-7},
      {"d":18.66,"v":4.75e-7},{"d":21.55,"v":4.33e-7},{"d":24.44,"v":3.83e-7},{"d":27.16,"v":3.5e-7},
      {"d":30.05,"v":3.25e-7},{"d":32.94,"v":3.08e-7},{"d":35.66,"v":3.0e-7},{"d":38.54,"v":2.83e-7},
      {"d":41.43,"v":2.75e-7},{"d":44.15,"v":2.58e-7},{"d":47.04,"v":2.66e-7},{"d":49.93,"v":2.66e-7},
      {"d":52.65,"v":2.58e-7},{"d":54.35,"v":2.5e-7},{"d":55.88,"v":2.66e-7}
    ]
  },
  "hconcat": [
    {
      "spacing": 0,
      "bounds": "flush",
      "vconcat": [
        {
          "width": 356,
          "height": 418,
          "layer": [
            {
              "data": {"name": "candL"},
              "mark": {"type": "bar", "width": 2.6, "clip": true},
              "encoding": {
                "x": {"field": "d", "type": "quantitative", "scale": {"domain": [7.27, 67.78], "nice": false, "zero": false},
                      "axis": {"title": null, "values": [19, 32, 47, 62], "grid": true, "labels": false, "ticks": false, "domain": false, "minExtent": 0, "maxExtent": 0}},
                "y": {"field": "v", "type": "quantitative", "scale": {"domain": [0, 418]}, "axis": null},
                "color": {"condition": {"test": "datum.c < datum.o", "value": "#f5aaa8"}, "value": "#98d2c9"}
              }
            },
            {
              "layer": [
                {
                  "data": {"name": "bbL"},
                  "mark": {"type": "area", "color": "#eaf6f5", "clip": true},
                  "encoding": {
                    "x": {"field": "d", "type": "quantitative", "scale": {"domain": [7.27, 67.78], "nice": false, "zero": false}},
                    "y": {"field": "up", "type": "quantitative", "scale": {"domain": [10077, 10939], "nice": false, "zero": false},
                          "axis": {"title": null, "orient": "left", "values": [10100, 10200, 10300, 10400, 10500, 10600, 10700, 10800, 10900], "format": ".2f", "grid": false, "tickSize": 4, "labelPadding": 2, "minExtent": 49, "maxExtent": 49}},
                    "y2": {"field": "lo"}
                  }
                },
                {
                  "data": {"name": "cloudL"},
                  "mark": {"type": "area", "color": "#fcdcdc", "clip": true},
                  "encoding": {
                    "x": {"field": "d", "type": "quantitative", "scale": {"domain": [7.27, 67.78], "nice": false, "zero": false}},
                    "y": {"field": "b", "type": "quantitative", "scale": {"domain": [10077, 10939], "nice": false, "zero": false}},
                    "y2": {"field": "a"}
                  }
                },
                {
                  "data": {"name": "bbL"},
                  "mark": {"type": "line", "color": "#3d948a", "strokeWidth": 1, "clip": true},
                  "encoding": {
                    "x": {"field": "d", "type": "quantitative", "scale": {"domain": [7.27, 67.78], "nice": false, "zero": false}},
                    "y": {"field": "up", "type": "quantitative", "scale": {"domain": [10077, 10939], "nice": false, "zero": false}}
                  }
                },
                {
                  "data": {"name": "bbL"},
                  "mark": {"type": "line", "color": "#3d948a", "strokeWidth": 1, "clip": true},
                  "encoding": {
                    "x": {"field": "d", "type": "quantitative", "scale": {"domain": [7.27, 67.78], "nice": false, "zero": false}},
                    "y": {"field": "lo", "type": "quantitative", "scale": {"domain": [10077, 10939], "nice": false, "zero": false}}
                  }
                },
                {
                  "data": {"name": "bbL"},
                  "mark": {"type": "line", "color": "#2ec42e", "strokeWidth": 1.2, "clip": true},
                  "encoding": {
                    "x": {"field": "d", "type": "quantitative", "scale": {"domain": [7.27, 67.78], "nice": false, "zero": false}},
                    "y": {"field": "mid", "type": "quantitative", "scale": {"domain": [10077, 10939], "nice": false, "zero": false}}
                  }
                },
                {
                  "data": {"name": "rdL"},
                  "mark": {"type": "line", "color": "#e8312e", "strokeWidth": 1.2, "clip": true},
                  "encoding": {
                    "x": {"field": "d", "type": "quantitative", "scale": {"domain": [7.27, 67.78], "nice": false, "zero": false}},
                    "y": {"field": "p", "type": "quantitative", "scale": {"domain": [10077, 10939], "nice": false, "zero": false}}
                  }
                },
                {
                  "data": {"name": "saL"},
                  "mark": {"type": "line", "color": "#8dac82", "strokeWidth": 1, "clip": true},
                  "encoding": {
                    "x": {"field": "d", "type": "quantitative", "scale": {"domain": [7.27, 67.78], "nice": false, "zero": false}},
                    "y": {"field": "a", "type": "quantitative", "scale": {"domain": [10077, 10939], "nice": false, "zero": false}}
                  }
                },
                {
                  "data": {"name": "cloudL"},
                  "mark": {"type": "line", "color": "#f26a6a", "strokeWidth": 1, "clip": true},
                  "encoding": {
                    "x": {"field": "d", "type": "quantitative", "scale": {"domain": [7.27, 67.78], "nice": false, "zero": false}},
                    "y": {"field": "b", "type": "quantitative", "scale": {"domain": [10077, 10939], "nice": false, "zero": false}}
                  }
                },
                {
                  "data": {"name": "candL"},
                  "mark": {"type": "rule", "color": "#2e2e2e", "strokeWidth": 1, "clip": true},
                  "encoding": {
                    "x": {"field": "d", "type": "quantitative", "scale": {"domain": [7.27, 67.78], "nice": false, "zero": false}},
                    "y": {"field": "l", "type": "quantitative", "scale": {"domain": [10077, 10939], "nice": false, "zero": false}},
                    "y2": {"field": "h"}
                  }
                },
                {
                  "data": {"name": "candL"},
                  "mark": {"type": "bar", "width": 2.6, "clip": true},
                  "encoding": {
                    "x": {"field": "d", "type": "quantitative", "scale": {"domain": [7.27, 67.78], "nice": false, "zero": false}},
                    "y": {"field": "o", "type": "quantitative", "scale": {"domain": [10077, 10939], "nice": false, "zero": false}},
                    "y2": {"field": "c"},
                    "color": {"condition": {"test": "datum.c < datum.o", "value": "#141414"}, "value": "#5e5e5e"}
                  }
                },
                {
                  "data": {"name": "trL"},
                  "mark": {"type": "rule", "clip": true},
                  "encoding": {
                    "x": {"field": "d1", "type": "quantitative", "scale": {"domain": [7.27, 67.78], "nice": false, "zero": false}},
                    "x2": {"field": "d2"},
                    "y": {"field": "p1", "type": "quantitative", "scale": {"domain": [10077, 10939], "nice": false, "zero": false}},
                    "y2": {"field": "p2"},
                    "color": {"condition": [{"test": "datum.k == 'dark'", "value": "#2e2ed0"}, {"test": "datum.k == 'arrow'", "value": "#f21a1a"}], "value": "#7f79ea"},
                    "strokeWidth": {"condition": {"test": "datum.k == 'arrow'", "value": 2.2}, "value": 1.2}
                  }
                }
              ]
            },
            {
              "layer": [
                {
                  "data": {"values": [{"v": 0.000002}]},
                  "mark": {"type": "rule", "color": "#9598a1", "strokeDash": [1, 2]},
                  "encoding": {
                    "y": {"field": "v", "type": "quantitative", "scale": {"domain": [0.000001611, 0.000004191], "nice": false, "zero": false},
                          "axis": {"title": null, "orient": "right", "values": [0.0000025, 0.000003, 0.0000035, 0.000004], "format": ".8f", "grid": true, "tickSize": 4, "labelPadding": 2, "minExtent": 59, "maxExtent": 59}}
                  }
                },
                {
                  "data": {"values": [
                    {"x1": 68.3, "x2": 77.7, "y1": 0.000001955, "y2": 0.000002035},
                    {"x1": 72.6, "x2": 77.7, "y1": 0.00000182, "y2": 0.000001935}
                  ]},
                  "mark": {"type": "rect", "color": "#d1d4da"},
                  "encoding": {
                    "x": {"field": "x1", "type": "quantitative", "scale": {"domain": [7.27, 67.78], "nice": false, "zero": false}},
                    "x2": {"field": "x2"},
                    "y": {"field": "y1", "type": "quantitative", "scale": {"domain": [0.000001611, 0.000004191], "nice": false, "zero": false}},
                    "y2": {"field": "y2"}
                  }
                },
                {
                  "data": {"values": [
                    {"xt": 72.95, "yt": 0.000001995, "t": "0.00000200"},
                    {"xt": 75.15, "yt": 0.000001877, "t": "53:39"}
                  ]},
                  "mark": {"type": "text", "fontSize": 10.5, "color": "#1e222d", "align": "center", "baseline": "middle"},
                  "encoding": {
                    "x": {"field": "xt", "type": "quantitative", "scale": {"domain": [7.27, 67.78], "nice": false, "zero": false}},
                    "y": {"field": "yt", "type": "quantitative", "scale": {"domain": [0.000001611, 0.000004191], "nice": false, "zero": false}},
                    "text": {"field": "t"}
                  }
                }
              ]
            }
          ],
          "resolve": {"scale": {"y": "independent"}}
        },
        {
          "width": 356,
          "height": 54,
          "layer": [
            {
              "data": {"values": [{"a": 20, "b": 80}]},
              "mark": {"type": "rect", "color": "#d3a8f6", "opacity": 0.55},
              "encoding": {
                "x": {"datum": 7.27, "type": "quantitative", "scale": {"domain": [7.27, 67.78], "nice": false, "zero": false}},
                "x2": {"datum": 67.78},
                "y": {"field": "a", "type": "quantitative", "scale": {"domain": [-12, 117], "nice": false, "zero": false},
                      "axis": {"title": null, "orient": "right", "values": [0, 100], "format": ".2f", "grid": true, "tickSize": 4, "labelPadding": 2, "minExtent": 59, "maxExtent": 59}},
                "y2": {"field": "b"}
              }
            },
            {
              "data": {"values": [{"a": 20}, {"a": 80}]},
              "mark": {"type": "rule", "color": "#7b7290", "strokeDash": [4, 3]},
              "encoding": {
                "y": {"field": "a", "type": "quantitative", "scale": {"domain": [-12, 117], "nice": false, "zero": false}}
              }
            },
            {
              "data": {"name": "stL"},
              "mark": {"type": "line", "strokeWidth": 1.1},
              "encoding": {
                "x": {"field": "d", "type": "quantitative", "scale": {"domain": [7.27, 67.78], "nice": false, "zero": false},
                      "axis": {"title": null, "values": [19, 32, 47, 62], "grid": true, "labels": false, "ticks": false, "domain": false, "minExtent": 0, "maxExtent": 0}},
                "y": {"field": "v", "type": "quantitative", "scale": {"domain": [-12, 117], "nice": false, "zero": false}},
                "color": {"field": "s", "type": "nominal", "scale": {"domain": ["K", "D"], "range": ["#2196f3", "#ff7020"]}, "legend": null}
              }
            }
          ]
        },
        {
          "width": 356,
          "height": 48,
          "layer": [
            {
              "data": {"name": "oscL"},
              "mark": {"type": "line", "color": "#f5821f", "strokeWidth": 1.2},
              "encoding": {
                "x": {"field": "d", "type": "quantitative", "scale": {"domain": [7.27, 67.78], "nice": false, "zero": false},
                      "axis": {"title": null, "values": [19, 32, 47, 62], "grid": true, "ticks": false, "domain": false, "labelPadding": 10, "labelFontSize": 11,
                               "labelExpr": "datum.value == 32 ? 'Sep' : datum.value == 62 ? 'Oct' : datum.value > 31 ? '' + (datum.value - 31) : '' + datum.value"}},
                "y": {"field": "v", "type": "quantitative", "scale": {"domain": [2.08e-7, 6.08e-7], "nice": false, "zero": false},
                      "axis": {"title": null, "orient": "right", "values": [5e-7], "format": ".8f", "grid": true, "tickSize": 4, "labelPadding": 2, "minExtent": 59, "maxExtent": 59}}
              }
            },
            {
              "data": {"values": [{"x": 3.19, "t": "Z"}, {"x": 72.53, "t": "A"}]},
              "mark": {"type": "circle", "size": 290, "color": "#eceef3", "opacity": 1},
              "encoding": {
                "x": {"field": "x", "type": "quantitative", "scale": {"domain": [7.27, 67.78], "nice": false, "zero": false}},
                "y": {"datum": 7.5e-8, "type": "quantitative", "scale": {"domain": [2.08e-7, 6.08e-7], "nice": false, "zero": false}}
              }
            },
            {
              "data": {"values": [{"x": 3.19, "t": "Z"}, {"x": 72.53, "t": "A"}]},
              "mark": {"type": "text", "fontSize": 11, "color": "#555"},
              "encoding": {
                "x": {"field": "x", "type": "quantitative", "scale": {"domain": [7.27, 67.78], "nice": false, "zero": false}},
                "y": {"datum": 7.5e-8, "type": "quantitative", "scale": {"domain": [2.08e-7, 6.08e-7], "nice": false, "zero": false}},
                "text": {"field": "t"}
              }
            }
          ]
        }
      ]
    },
    {
      "spacing": 0,
      "bounds": "flush",
      "vconcat": [
        {
          "width": 370,
          "height": 418,
          "layer": [
            {
              "data": {"name": "candR"},
              "mark": {"type": "bar", "width": 2.6, "clip": true},
              "encoding": {
                "x": {"field": "d", "type": "quantitative", "scale": {"domain": [4.89, 67.78], "nice": false, "zero": false},
                      "axis": {"title": null, "values": [5, 19, 32, 47, 62], "grid": true, "labels": false, "ticks": false, "domain": false, "minExtent": 0, "maxExtent": 0}},
                "y": {"field": "v", "type": "quantitative", "scale": {"domain": [0, 418]}, "axis": null},
                "color": {"condition": {"test": "datum.c < datum.o", "value": "#f5aaa8"}, "value": "#98d2c9"}
              }
            },
            {
              "layer": [
                {
                  "data": {"name": "bbR"},
                  "mark": {"type": "area", "color": "#eaf6f5", "clip": true},
                  "encoding": {
                    "x": {"field": "d", "type": "quantitative", "scale": {"domain": [4.89, 67.78], "nice": false, "zero": false}},
                    "y": {"field": "up", "type": "quantitative", "scale": {"domain": [10077, 10939], "nice": false, "zero": false},
                          "axis": {"title": null, "orient": "left", "values": [10100, 10200, 10300, 10400, 10500, 10600, 10700, 10800, 10900], "format": ".2f", "grid": false, "tickSize": 4, "labelPadding": 2, "minExtent": 50, "maxExtent": 50}},
                    "y2": {"field": "lo"}
                  }
                },
                {
                  "data": {"name": "cloudR"},
                  "mark": {"type": "area", "color": "#fcdcdc", "clip": true},
                  "encoding": {
                    "x": {"field": "d", "type": "quantitative", "scale": {"domain": [4.89, 67.78], "nice": false, "zero": false}},
                    "y": {"field": "b", "type": "quantitative", "scale": {"domain": [10077, 10939], "nice": false, "zero": false}},
                    "y2": {"field": "a"}
                  }
                },
                {
                  "data": {"name": "bbR"},
                  "mark": {"type": "line", "color": "#3d948a", "strokeWidth": 1, "clip": true},
                  "encoding": {
                    "x": {"field": "d", "type": "quantitative", "scale": {"domain": [4.89, 67.78], "nice": false, "zero": false}},
                    "y": {"field": "up", "type": "quantitative", "scale": {"domain": [10077, 10939], "nice": false, "zero": false}}
                  }
                },
                {
                  "data": {"name": "bbR"},
                  "mark": {"type": "line", "color": "#3d948a", "strokeWidth": 1, "clip": true},
                  "encoding": {
                    "x": {"field": "d", "type": "quantitative", "scale": {"domain": [4.89, 67.78], "nice": false, "zero": false}},
                    "y": {"field": "lo", "type": "quantitative", "scale": {"domain": [10077, 10939], "nice": false, "zero": false}}
                  }
                },
                {
                  "data": {"name": "bbR"},
                  "mark": {"type": "line", "color": "#2ec42e", "strokeWidth": 1.2, "clip": true},
                  "encoding": {
                    "x": {"field": "d", "type": "quantitative", "scale": {"domain": [4.89, 67.78], "nice": false, "zero": false}},
                    "y": {"field": "mid", "type": "quantitative", "scale": {"domain": [10077, 10939], "nice": false, "zero": false}}
                  }
                },
                {
                  "data": {"name": "rdR"},
                  "mark": {"type": "line", "color": "#e8312e", "strokeWidth": 1.2, "clip": true},
                  "encoding": {
                    "x": {"field": "d", "type": "quantitative", "scale": {"domain": [4.89, 67.78], "nice": false, "zero": false}},
                    "y": {"field": "p", "type": "quantitative", "scale": {"domain": [10077, 10939], "nice": false, "zero": false}}
                  }
                },
                {
                  "data": {"name": "saR"},
                  "mark": {"type": "line", "color": "#8dac82", "strokeWidth": 1, "clip": true},
                  "encoding": {
                    "x": {"field": "d", "type": "quantitative", "scale": {"domain": [4.89, 67.78], "nice": false, "zero": false}},
                    "y": {"field": "a", "type": "quantitative", "scale": {"domain": [10077, 10939], "nice": false, "zero": false}}
                  }
                },
                {
                  "data": {"name": "cloudR"},
                  "mark": {"type": "line", "color": "#f26a6a", "strokeWidth": 1, "clip": true},
                  "encoding": {
                    "x": {"field": "d", "type": "quantitative", "scale": {"domain": [4.89, 67.78], "nice": false, "zero": false}},
                    "y": {"field": "b", "type": "quantitative", "scale": {"domain": [10077, 10939], "nice": false, "zero": false}}
                  }
                },
                {
                  "data": {"name": "candR"},
                  "mark": {"type": "rule", "color": "#2e2e2e", "strokeWidth": 1, "clip": true},
                  "encoding": {
                    "x": {"field": "d", "type": "quantitative", "scale": {"domain": [4.89, 67.78], "nice": false, "zero": false}},
                    "y": {"field": "l", "type": "quantitative", "scale": {"domain": [10077, 10939], "nice": false, "zero": false}},
                    "y2": {"field": "h"}
                  }
                },
                {
                  "data": {"name": "candR"},
                  "mark": {"type": "bar", "width": 2.6, "clip": true},
                  "encoding": {
                    "x": {"field": "d", "type": "quantitative", "scale": {"domain": [4.89, 67.78], "nice": false, "zero": false}},
                    "y": {"field": "o", "type": "quantitative", "scale": {"domain": [10077, 10939], "nice": false, "zero": false}},
                    "y2": {"field": "c"},
                    "color": {"condition": {"test": "datum.c < datum.o", "value": "#141414"}, "value": "#5e5e5e"}
                  }
                },
                {
                  "data": {"name": "trR"},
                  "mark": {"type": "rule", "clip": true},
                  "encoding": {
                    "x": {"field": "d1", "type": "quantitative", "scale": {"domain": [4.89, 67.78], "nice": false, "zero": false}},
                    "x2": {"field": "d2"},
                    "y": {"field": "p1", "type": "quantitative", "scale": {"domain": [10077, 10939], "nice": false, "zero": false}},
                    "y2": {"field": "p2"},
                    "color": {"condition": [{"test": "datum.k == 'dark'", "value": "#2e2ed0"}, {"test": "datum.k == 'arrow'", "value": "#f21a1a"}], "value": "#7f79ea"},
                    "strokeWidth": {"condition": {"test": "datum.k == 'arrow'", "value": 2.2}, "value": 1.2}
                  }
                }
              ]
            },
            {
              "layer": [
                {
                  "data": {"values": [{"v": 0.01681}]},
                  "mark": {"type": "rule", "color": "#9598a1", "strokeDash": [1, 2]},
                  "encoding": {
                    "y": {"field": "v", "type": "quantitative", "scale": {"domain": [0.01416, 0.04221], "nice": false, "zero": false},
                          "axis": {"title": null, "orient": "right", "values": [0.02, 0.025, 0.03, 0.035, 0.04], "format": ".5f", "grid": true, "tickSize": 4, "labelPadding": 2, "minExtent": 44, "maxExtent": 44}}
                  }
                },
                {
                  "data": {"values": [
                    {"x1": 67.86, "x2": 75.05, "y1": 0.01631, "y2": 0.01745},
                    {"x1": 70.0, "x2": 75.05, "y1": 0.01496, "y2": 0.01617}
                  ]},
                  "mark": {"type": "rect", "color": "#d1d4da"},
                  "encoding": {
                    "x": {"field": "x1", "type": "quantitative", "scale": {"domain": [4.89, 67.78], "nice": false, "zero": false}},
                    "x2": {"field": "x2"},
                    "y": {"field": "y1", "type": "quantitative", "scale": {"domain": [0.01416, 0.04221], "nice": false, "zero": false}},
                    "y2": {"field": "y2"}
                  }
                },
                {
                  "data": {"values": [
                    {"xt": 71.47, "yt": 0.01688, "t": "0.01681"},
                    {"xt": 72.53, "yt": 0.01557, "t": "53:39"}
                  ]},
                  "mark": {"type": "text", "fontSize": 10.5, "color": "#1e222d", "align": "center", "baseline": "middle"},
                  "encoding": {
                    "x": {"field": "xt", "type": "quantitative", "scale": {"domain": [4.89, 67.78], "nice": false, "zero": false}},
                    "y": {"field": "yt", "type": "quantitative", "scale": {"domain": [0.01416, 0.04221], "nice": false, "zero": false}},
                    "text": {"field": "t"}
                  }
                }
              ]
            }
          ],
          "resolve": {"scale": {"y": "independent"}}
        },
        {
          "width": 370,
          "height": 54,
          "layer": [
            {
              "data": {"values": [{"a": 20, "b": 80}]},
              "mark": {"type": "rect", "color": "#d3a8f6", "opacity": 0.55},
              "encoding": {
                "x": {"datum": 4.89, "type": "quantitative", "scale": {"domain": [4.89, 67.78], "nice": false, "zero": false}},
                "x2": {"datum": 67.78},
                "y": {"field": "a", "type": "quantitative", "scale": {"domain": [-12, 117], "nice": false, "zero": false},
                      "axis": {"title": null, "orient": "right", "values": [0, 100], "format": ".2f", "grid": true, "tickSize": 4, "labelPadding": 2, "minExtent": 44, "maxExtent": 44}},
                "y2": {"field": "b"}
              }
            },
            {
              "data": {"values": [{"a": 20}, {"a": 80}]},
              "mark": {"type": "rule", "color": "#7b7290", "strokeDash": [4, 3]},
              "encoding": {
                "y": {"field": "a", "type": "quantitative", "scale": {"domain": [-12, 117], "nice": false, "zero": false}}
              }
            },
            {
              "data": {"name": "stR"},
              "mark": {"type": "line", "strokeWidth": 1.1},
              "encoding": {
                "x": {"field": "d", "type": "quantitative", "scale": {"domain": [4.89, 67.78], "nice": false, "zero": false},
                      "axis": {"title": null, "values": [5, 19, 32, 47, 62], "grid": true, "labels": false, "ticks": false, "domain": false, "minExtent": 0, "maxExtent": 0}},
                "y": {"field": "v", "type": "quantitative", "scale": {"domain": [-12, 117], "nice": false, "zero": false}},
                "color": {"field": "s", "type": "nominal", "scale": {"domain": ["K", "D"], "range": ["#2196f3", "#ff7020"]}, "legend": null}
              }
            }
          ]
        },
        {
          "width": 370,
          "height": 48,
          "layer": [
            {
              "data": {"name": "oscR"},
              "mark": {"type": "line", "color": "#f5821f", "strokeWidth": 1.2},
              "encoding": {
                "x": {"field": "d", "type": "quantitative", "scale": {"domain": [4.89, 67.78], "nice": false, "zero": false},
                      "axis": {"title": null, "values": [5, 19, 32, 47, 62], "grid": true, "ticks": false, "domain": false, "labelPadding": 10, "labelFontSize": 11,
                               "labelExpr": "datum.value == 32 ? 'Sep' : datum.value == 62 ? 'Oct' : datum.value > 31 ? '' + (datum.value - 31) : '' + datum.value"}},
                "y": {"field": "v", "type": "quantitative", "scale": {"domain": [2.08e-7, 6.08e-7], "nice": false, "zero": false},
                      "axis": {"title": null, "orient": "right", "values": [5e-7], "labels": false, "ticks": false, "grid": true, "minExtent": 44, "maxExtent": 44}}
              }
            },
            {
              "data": {"values": [{"x": 0.135, "t": "Z"}, {"x": 69.82, "t": "A"}]},
              "mark": {"type": "circle", "size": 290, "color": "#eceef3", "opacity": 1},
              "encoding": {
                "x": {"field": "x", "type": "quantitative", "scale": {"domain": [4.89, 67.78], "nice": false, "zero": false}},
                "y": {"datum": 7.5e-8, "type": "quantitative", "scale": {"domain": [2.08e-7, 6.08e-7], "nice": false, "zero": false}}
              }
            },
            {
              "data": {"values": [{"x": 0.135, "t": "Z"}, {"x": 69.82, "t": "A"}]},
              "mark": {"type": "text", "fontSize": 11, "color": "#555"},
              "encoding": {
                "x": {"field": "x", "type": "quantitative", "scale": {"domain": [4.89, 67.78], "nice": false, "zero": false}},
                "y": {"datum": 7.5e-8, "type": "quantitative", "scale": {"domain": [2.08e-7, 6.08e-7], "nice": false, "zero": false}},
                "text": {"field": "t"}
              }
            }
          ]
        }
      ]
    }
  ],
  "config": {
    "view": {"stroke": "#555555", "strokeWidth": 1.2},
    "axis": {"labelFont": "Liberation Sans", "labelFontSize": 10, "labelColor": "#4a4a4a", "tickColor": "#8a8a8a", "gridColor": "#e8eaef", "domain": false},
    "text": {"font": "Liberation Sans"}
  }
}
